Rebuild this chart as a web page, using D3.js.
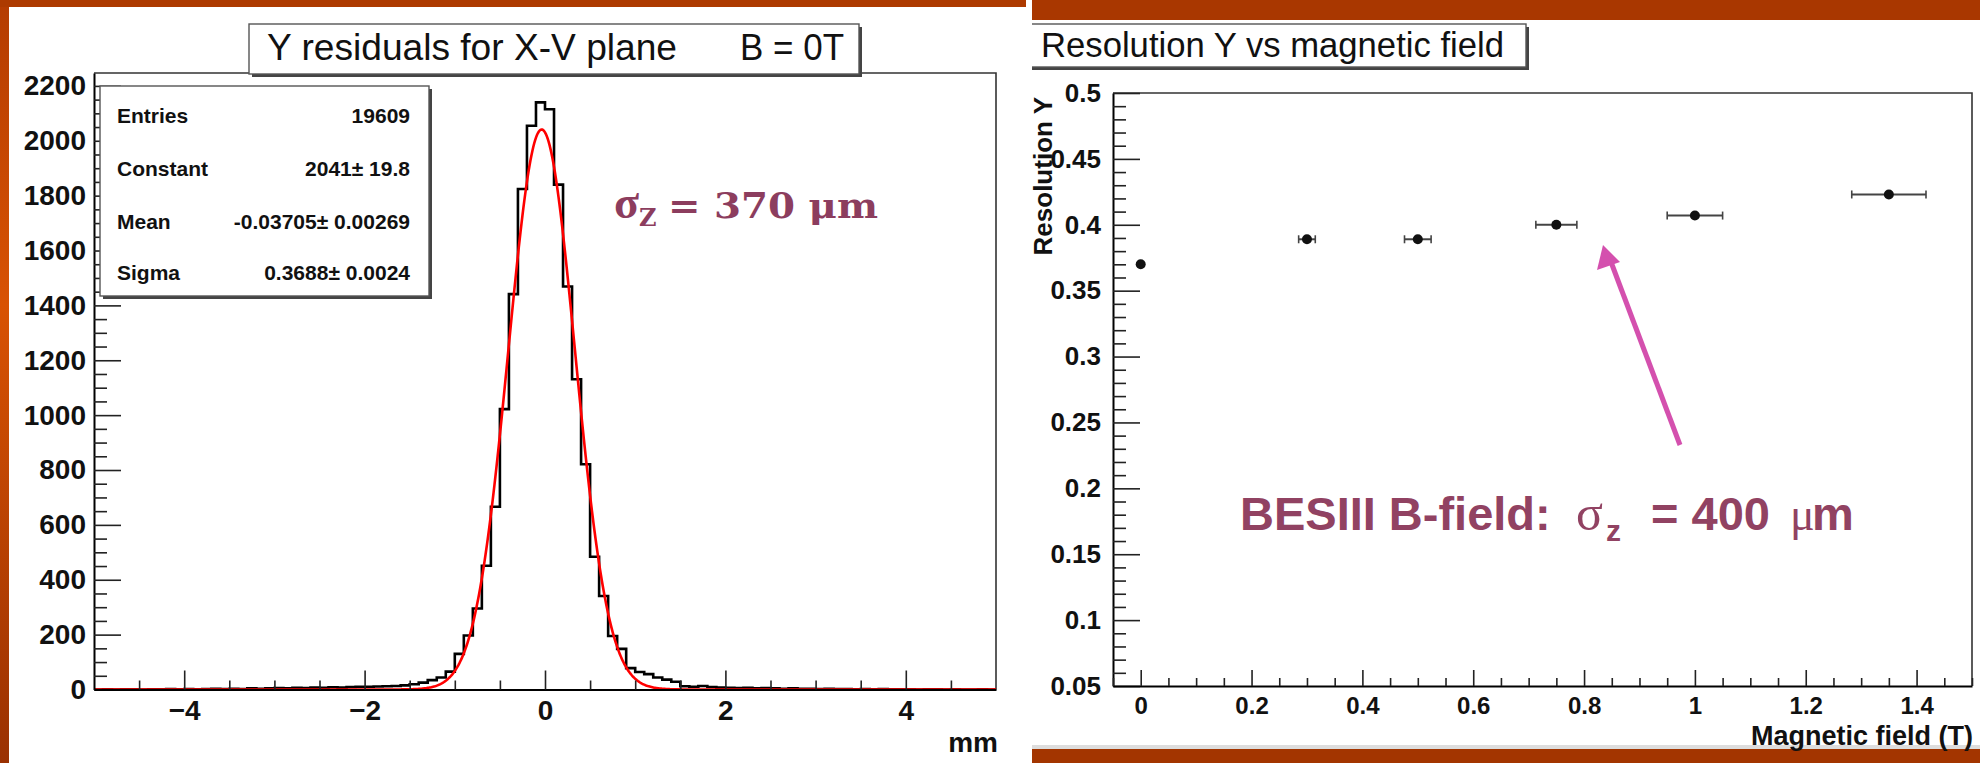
<!DOCTYPE html>
<html><head><meta charset="utf-8">
<script src="https://cdn.jsdelivr.net/npm/d3@7"></script>
<style>html,body{margin:0;padding:0;background:#fff;} svg{display:block;}</style>
</head><body>
<svg id="c" width="1980" height="763"></svg>
<script>
// ================= DATA =================
// Left: residual histogram, 100 bins of 0.1 mm between -5 and 5
const histRange = [-5, 5];
const residualCounts = [
  0,1,0,1,1,0,1,1,2,1,
  2,1,2,3,2,3,2,4,3,4,
  5,4,6,5,7,6,8,7,9,10,
  10,11,12,13,15,19,25,34,44,65,
  130,197,295,451,666,1022,1441,1824,2055,2140,
  2115,1840,1469,1131,821,484,341,195,148,78,
  64,56,44,36,28,12,10,13,9,7,
  6,5,6,4,5,4,3,4,3,3,
  2,3,2,2,1,2,1,2,1,1,
  1,0,1,1,0,1,0,0,1,0
];
// Gaussian fit parameters (from the stats box)
const fitConstant = 2041, fitMean = -0.03705, fitSigma = 0.3688;
const statsLabels = ["Entries", "Constant", "Mean", "Sigma"];
const statsValues = ["19609", "2041\u00B1 19.8", "-0.03705\u00B1 0.00269", "0.3688\u00B1 0.0024"];
const leftTitle = "Y residuals for X-V plane";
const leftTitle2 = "B = 0T";
const leftXLabel = "mm";
const leftYMax = 2247;
const leftYTicks = [0,200,400,600,800,1000,1200,1400,1600,1800,2000,2200];
const leftYMinor = [50,100,150,250,300,350,450,500,550,650,700,750,850,900,950,1050,1100,1150,1250,1300,1350,1450,1500,1550,1650,1700,1750,1850,1900,1950,2050,2100,2150];
const leftXTicks = [-4,-2,0,2,4];
const leftXMinor = [-4.5,-3.5,-3,-2.5,-1.5,-1,-0.5,0.5,1,1.5,2.5,3,3.5,4.5];

// Right: resolution vs magnetic field
const rightTitle = "Resolution Y vs magnetic field";
const rightXLabel = "Magnetic field (T)";
const rightYLabel = "Resolution Y";
const fieldValues      = [0, 0.3, 0.5, 0.75, 1.0, 1.35];
const resolutionValues = [0.370, 0.389, 0.389, 0.400, 0.407, 0.423];
const fieldErrors      = [0, 0.015, 0.024, 0.037, 0.05, 0.067];
const resolutionErrors = [0.002, 0.002, 0.002, 0.002, 0.002, 0.002];
const rightXDomain = [-0.05, 1.5];
const rightYDomain = [0.05, 0.5];
const rightYTicks = [0.05,0.1,0.15,0.2,0.25,0.3,0.35,0.4,0.45,0.5];
const rightYTickLabels = ["0.05","0.1","0.15","0.2","0.25","0.3","0.35","0.4","0.45","0.5"];
const rightYMinor = [0.06,0.07,0.08,0.09,0.11,0.12,0.13,0.14,0.16,0.17,0.18,0.19,0.21,0.22,0.23,0.24,0.26,0.27,0.28,0.29,0.31,0.32,0.33,0.34,0.36,0.37,0.38,0.39,0.41,0.42,0.43,0.44,0.46,0.47,0.48,0.49];
const rightXTicks = [0,0.2,0.4,0.6,0.8,1,1.2,1.4];
const rightXTickLabels = ["0","0.2","0.4","0.6","0.8","1","1.2","1.4"];
const rightXMinor = [-0.05,0.05,0.1,0.15,0.25,0.3,0.35,0.45,0.5,0.55,0.65,0.7,0.75,0.85,0.9,0.95,1.05,1.1,1.15,1.25,1.3,1.35,1.45,1.5];

// ================= DRAW =================
const svg = d3.select("#c");
const defs = svg.append("defs");
const grad = defs.append("linearGradient").attr("id","sideGrad").attr("x1",0).attr("y1",0).attr("x2",0).attr("y2",1);
grad.append("stop").attr("offset","0").attr("stop-color","#b43c02");
grad.append("stop").attr("offset","0.4").attr("stop-color","#d85203");
grad.append("stop").attr("offset","1").attr("stop-color","#9a3102");

svg.append("rect").attr("width",1980).attr("height",763).attr("fill","#fff");
// slide decorations
svg.append("rect").attr("x",0).attr("y",0).attr("width",9).attr("height",763).attr("fill","url(#sideGrad)");
svg.append("rect").attr("x",0).attr("y",0).attr("width",1026).attr("height",7).attr("fill","#ad3a00");
svg.append("rect").attr("x",1032).attr("y",0).attr("width",948).attr("height",20).attr("fill","#a93700");
svg.append("rect").attr("x",1032).attr("y",749).attr("width",948).attr("height",14).attr("fill","#a33500");
svg.append("rect").attr("x",1032).attr("y",745).attr("width",948).attr("height",4).attr("fill","#ddd");

const FONT = "'Liberation Sans', Arial, Helvetica, sans-serif";

// ---------- LEFT PANEL ----------
const xL = d3.scaleLinear().domain(histRange).range([94, 996]);
const yL = d3.scaleLinear().domain([0, leftYMax]).range([689.5, 73]);

defs.append("clipPath").attr("id","clipL").append("rect")
  .attr("x",94).attr("y",73).attr("width",902).attr("height",617);

const gL = svg.append("g");
gL.append("path").attr("d",`M${xL.range()[0]},${yL.range()[1]}H${xL.range()[1]}V${yL.range()[0]}`)
  .attr("fill","none").attr("stroke","#333").attr("stroke-width",1.6);

// histogram
const binW = (histRange[1]-histRange[0]) / residualCounts.length;
const histPts = residualCounts.map((c,i)=>[histRange[0]+i*binW, c]);
histPts.push([histRange[1], residualCounts[residualCounts.length-1]]);
gL.append("path").attr("clip-path","url(#clipL)")
  .attr("d", d3.line().x(d=>xL(d[0])).y(d=>yL(d[1])).curve(d3.curveStepAfter)(histPts))
  .attr("fill","none").attr("stroke","#000").attr("stroke-width",2.6);

// fit function (gaussian with the fitted parameters)
const fitXs = d3.range(histRange[0], histRange[1]+1e-9, 0.01);
const gaus = x => fitConstant*Math.exp(-0.5*Math.pow((x-fitMean)/fitSigma,2));
gL.append("path").attr("clip-path","url(#clipL)")
  .attr("d", d3.line().x(d=>xL(d)).y(d=>yL(gaus(d)))(fitXs))
  .attr("fill","none").attr("stroke","#ff0000").attr("stroke-width",2.6);

function styleAxis(g, fs){
  g.selectAll("text").attr("font-family",FONT).attr("font-weight","bold").attr("font-size",fs).attr("fill","#111");
  g.selectAll(".tick line").attr("stroke","#222").attr("stroke-width",1.6);
  g.select(".domain").attr("stroke","#000").attr("stroke-width",2);
}
const yAxL = gL.append("g").attr("transform",`translate(${xL.range()[0]},0)`)
  .call(d3.axisLeft(yL).tickValues(leftYTicks).tickSizeInner(-27).tickSizeOuter(0).tickPadding(8).tickFormat(d3.format("d")));
styleAxis(yAxL, 28);
const yAxLm = gL.append("g").attr("transform",`translate(${xL.range()[0]},0)`)
  .call(d3.axisLeft(yL).tickValues(leftYMinor).tickSizeInner(-13).tickSizeOuter(0).tickFormat(""));
styleAxis(yAxLm, 28); yAxLm.select(".domain").remove();

const xAxL = gL.append("g").attr("transform",`translate(0,${yL.range()[0]})`)
  .call(d3.axisBottom(xL).tickValues(leftXTicks).tickSizeInner(-19).tickSizeOuter(0).tickPadding(11).tickFormat(d3.format("d")));
styleAxis(xAxL, 28);
const xAxLm = gL.append("g").attr("transform",`translate(0,${yL.range()[0]})`)
  .call(d3.axisBottom(xL).tickValues(leftXMinor).tickSizeInner(-9).tickSizeOuter(0).tickFormat(""));
styleAxis(xAxLm, 28); xAxLm.select(".domain").remove();

gL.append("text").attr("x",998).attr("y",752).attr("text-anchor","end")
  .attr("font-family",FONT).attr("font-weight","bold").attr("font-size",28).attr("fill","#111").text(leftXLabel);

function box(g, x, y, w, h){
  g.append("rect").attr("x",x+3).attr("y",y+3).attr("width",w).attr("height",h).attr("fill","#444");
  g.append("rect").attr("x",x).attr("y",y).attr("width",w).attr("height",h).attr("fill","#fff").attr("stroke","#555").attr("stroke-width",1.4);
}
box(gL, 249, 24, 610, 50);
gL.append("text").attr("x",267).attr("y",60).attr("font-family",FONT).attr("font-size",37)
  .attr("textLength",410).attr("lengthAdjust","spacingAndGlyphs").attr("fill","#111").text(leftTitle);
gL.append("text").attr("x",740).attr("y",60).attr("font-family",FONT).attr("font-size",37)
  .attr("textLength",104).attr("lengthAdjust","spacingAndGlyphs").attr("fill","#111").text(leftTitle2);

// stats box
box(gL, 100, 86, 329, 210);
const rowY = [123, 176, 229, 280];
statsLabels.forEach((s,i)=>{
  gL.append("text").attr("x",117).attr("y",rowY[i]).attr("font-family",FONT).attr("font-weight","bold")
    .attr("font-size",21).attr("fill","#111").text(s);
  gL.append("text").attr("x",410).attr("y",rowY[i]).attr("text-anchor","end").attr("font-family",FONT).attr("font-weight","bold")
    .attr("font-size",21).attr("fill","#111").text(statsValues[i]);
});

// sigma annotation
const annCol = "#8c3d5e";
const ann1 = gL.append("text").attr("y",218).attr("fill",annCol).attr("font-weight","bold");
ann1.append("tspan").attr("x",614).attr("font-family","'Liberation Serif','DejaVu Serif',serif").attr("font-size",46).text("\u03C3");
ann1.append("tspan").attr("dy",8).attr("font-family","'DejaVu Serif',serif").attr("font-size",24).text("Z");
gL.append("text").attr("x",668).attr("y",218).attr("fill",annCol).attr("font-weight","bold")
  .attr("font-family","'DejaVu Serif',serif").attr("font-size",36)
  .attr("textLength",210).attr("lengthAdjust","spacingAndGlyphs").text("= 370 \u03BCm");

// ---------- RIGHT PANEL ----------
const xR = d3.scaleLinear().domain(rightXDomain).range([1113, 1972]);
const yR = d3.scaleLinear().domain(rightYDomain).range([686, 93]);
const gR = svg.append("g");
gR.append("path").attr("d",`M${xR.range()[0]},${yR.range()[1]}H${xR.range()[1]}V${yR.range()[0]}`)
  .attr("fill","none").attr("stroke","#333").attr("stroke-width",1.6);

const yAxR = gR.append("g").attr("transform",`translate(${xR.range()[0]},0)`)
  .call(d3.axisLeft(yR).tickValues(rightYTicks).tickSizeInner(-27).tickSizeOuter(0).tickPadding(12)
  .tickFormat((d,i)=>rightYTickLabels[i]));
styleAxis(yAxR, 26);
const yAxRm = gR.append("g").attr("transform",`translate(${xR.range()[0]},0)`)
  .call(d3.axisLeft(yR).tickValues(rightYMinor).tickSizeInner(-13).tickSizeOuter(0).tickFormat(""));
styleAxis(yAxRm, 26); yAxRm.select(".domain").remove();
const xAxR = gR.append("g").attr("transform",`translate(0,${yR.range()[0]})`)
  .call(d3.axisBottom(xR).tickValues(rightXTicks).tickSizeInner(-16).tickSizeOuter(0).tickPadding(11)
  .tickFormat((d,i)=>rightXTickLabels[i]));
styleAxis(xAxR, 24);
const xAxRm = gR.append("g").attr("transform",`translate(0,${yR.range()[0]})`)
  .call(d3.axisBottom(xR).tickValues(rightXMinor).tickSizeInner(-8).tickSizeOuter(0).tickFormat(""));
styleAxis(xAxRm, 24); xAxRm.select(".domain").remove();

gR.append("text").attr("x",1973).attr("y",745).attr("text-anchor","end")
  .attr("font-family",FONT).attr("font-weight","bold").attr("font-size",27).attr("fill","#111").text(rightXLabel);

defs.append("clipPath").attr("id","clipRL").append("rect").attr("x",1032).attr("y",20).attr("width",948).attr("height",730);
const gYL = gR.append("g").attr("clip-path","url(#clipRL)");
gYL.append("text")
  .attr("transform","translate(1052,97) rotate(-90)").attr("text-anchor","end")
  .attr("font-family",FONT).attr("font-weight","bold").attr("font-size",26).attr("fill","#111").text(rightYLabel);

// title box (left edge cut by panel)
const gRT = gR.append("g").attr("clip-path","url(#clipRL)");
box(gRT, 1028, 24, 498, 43);
gRT.append("text").attr("x",1041).attr("y",57).attr("font-family",FONT).attr("font-size",35)
  .attr("textLength",463).attr("lengthAdjust","spacingAndGlyphs").attr("fill","#111").text(rightTitle);

// data points with error bars
const pts = fieldValues.map((f,i)=>({x:f, y:resolutionValues[i], ex:fieldErrors[i], ey:resolutionErrors[i]}));
const pg = gR.append("g");
pts.forEach(p=>{
  if (p.ex>0){
    pg.append("line").attr("x1",xR(p.x-p.ex)).attr("x2",xR(p.x+p.ex)).attr("y1",yR(p.y)).attr("y2",yR(p.y))
      .attr("stroke","#444").attr("stroke-width",2);
    [p.x-p.ex, p.x+p.ex].forEach(e=>{
      pg.append("line").attr("x1",xR(e)).attr("x2",xR(e)).attr("y1",yR(p.y)-4).attr("y2",yR(p.y)+4)
        .attr("stroke","#444").attr("stroke-width",1.6);
    });
  }
  pg.append("line").attr("x1",xR(p.x)).attr("x2",xR(p.x)).attr("y1",yR(p.y-p.ey)).attr("y2",yR(p.y+p.ey))
    .attr("stroke","#222").attr("stroke-width",2);
  pg.append("circle").attr("cx",xR(p.x)).attr("cy",yR(p.y)).attr("r",5).attr("fill","#111");
});

// arrow annotation
const arrowCol = "#d450ae";
gR.append("line").attr("x1",1680).attr("y1",445).attr("x2",1611).attr("y2",262)
  .attr("stroke",arrowCol).attr("stroke-width",5);
gR.append("path").attr("d","M1603,245 L1597,270 L1620,262 Z").attr("fill",arrowCol);

const ann2Col = "#914262";
gR.append("text").attr("x",1240).attr("y",530).attr("fill",ann2Col)
  .attr("font-family",FONT).attr("font-weight","bold").attr("font-size",47).text("BESIII B-field:");
gR.append("text").attr("x",1576).attr("y",530).attr("fill",ann2Col)
  .attr("font-family","'Liberation Serif',serif").attr("font-size",50).text("\u03C3");
gR.append("text").attr("x",1606).attr("y",541).attr("fill",ann2Col)
  .attr("font-family",FONT).attr("font-weight","bold").attr("font-size",30).text("z");
gR.append("text").attr("x",1651).attr("y",530).attr("fill",ann2Col)
  .attr("font-family",FONT).attr("font-weight","bold").attr("font-size",47).text("= 400");
gR.append("text").attr("x",1790).attr("y",530).attr("fill",ann2Col)
  .attr("font-family","'Liberation Serif',serif").attr("font-size",46).text("\u03BC");
gR.append("text").attr("x",1812).attr("y",530).attr("fill",ann2Col)
  .attr("font-family",FONT).attr("font-weight","bold").attr("font-size",47).text("m");
</script>
</body></html>
